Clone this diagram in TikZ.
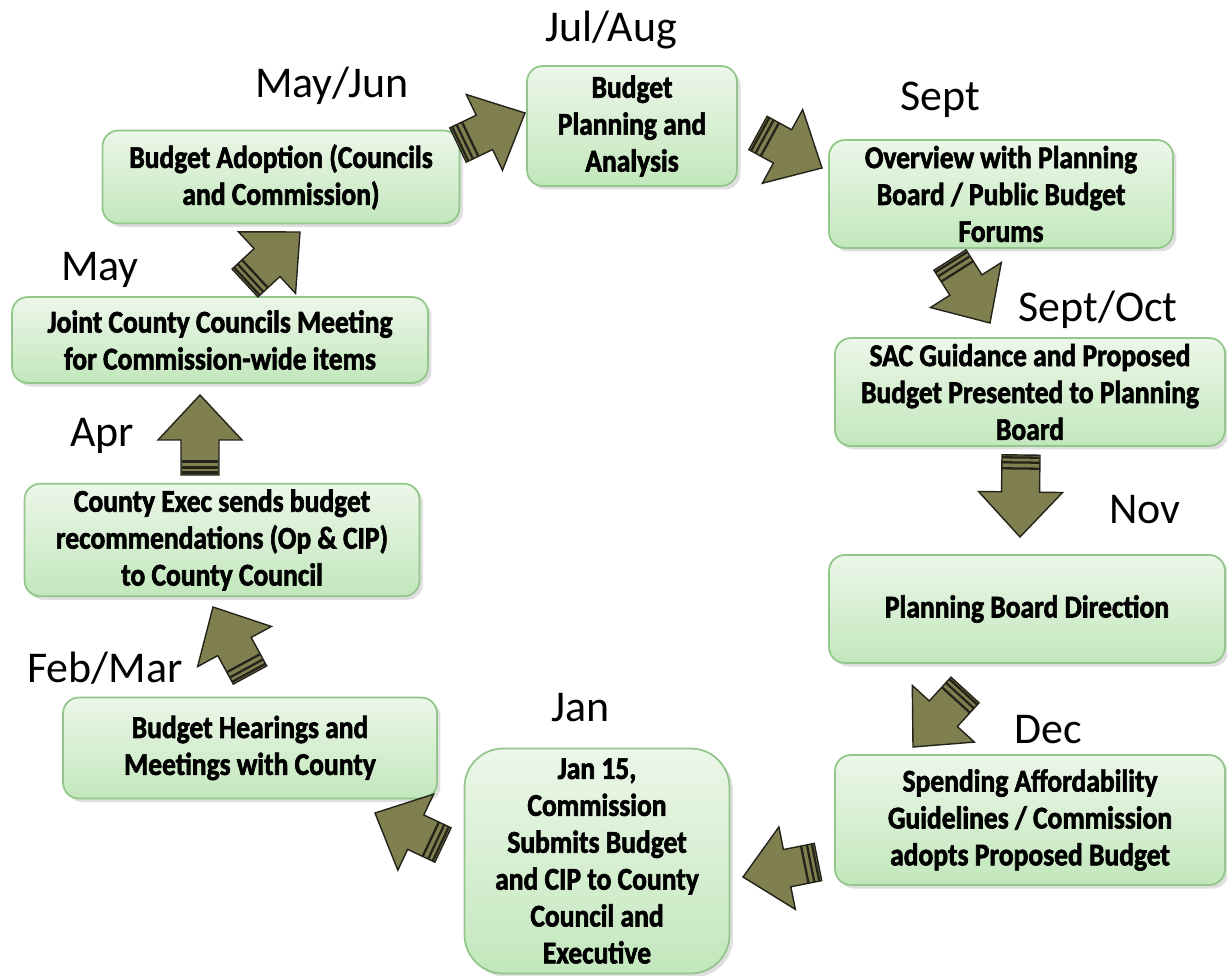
\documentclass[tikz,border=0pt]{standalone}
\usepackage{fontspec}
\setmainfont{Carlito}
\newfontfamily\boxfont{Carlito}[FakeStretch=0.87,BoldFeatures={FakeBold=2}]
\usetikzlibrary{calc,shadows}

\definecolor{boxtop}{RGB}{236,247,233}
\definecolor{boxbot}{RGB}{194,231,188}
\definecolor{boxline}{RGB}{146,198,138}
\definecolor{arrowfill}{RGB}{127,127,80}
\definecolor{arrowline}{RGB}{35,35,25}

% fat block arrow from #1 (tail) to #2 (tip)
\newcommand{\fatarrow}[2]{%
  \filldraw[fill=arrowfill,draw=arrowline,line width=0.8pt,line join=miter]
    ($(#1)!0.38cm!90:(#2)$) -- ($(#2)!0.9cm!(#1)!0.38cm!90:(#2)$)
    -- ($(#2)!0.9cm!(#1)!0.84cm!90:(#2)$) -- (#2)
    -- ($(#2)!0.9cm!(#1)!0.84cm!-90:(#2)$) -- ($(#2)!0.9cm!(#1)!0.38cm!-90:(#2)$)
    -- ($(#1)!0.38cm!-90:(#2)$) -- cycle;
  \foreach \d in {0.05cm,0.15cm,0.27cm}
    \draw[arrowline,line width=1.3pt]
      ($(#1)!\d!(#2)!0.37cm!90:(#2)$) -- ($(#1)!\d!(#2)!0.37cm!-90:(#2)$);
}

\begin{document}
\begin{tikzpicture}[x=0.02cm,y=-0.02cm,
    stage/.style={draw=boxline,line width=1pt,rounded corners=9pt,
      top color=boxtop,bottom color=boxbot,align=center,
      drop shadow={opacity=0.25,shadow xshift=2pt,shadow yshift=-2pt},
      font=\boxfont\bfseries\fontsize{18}{21}\selectfont},
    month/.style={font=\fontsize{25}{28}\selectfont}]

    \useasboundingbox (0,0) rectangle (1227,976);

    \node[stage,minimum width=4.2cm,minimum height=2.4cm] (budgetplan) at (632,126)
      {Budget\\Planning and\\Analysis};
    \node[stage,minimum width=6.88cm,minimum height=2.12cm] (overview) at (1001,194)
      {Overview with Planning\\Board / Public Budget\\Forums};
    \node[stage,minimum width=7.8cm,minimum height=2.1cm] (sacguide) at (1030,392)
      {SAC Guidance and Proposed\\Budget Presented to Planning\\Board};
    \node[stage,minimum width=7.92cm,minimum height=2.16cm] (pbdirection) at (1027,609)
      {Planning Board Direction};
    \node[stage,minimum width=7.8cm,minimum height=2.6cm] (spending) at (1030,820)
      {Spending Affordability\\Guidelines / Commission\\adopts Proposed Budget};
    \node[stage,rounded corners=22pt,minimum width=5.3cm,minimum height=4.5cm] (submit) at (597,861)
      {Jan 15,\\Commission\\Submits Budget\\and CIP to County\\Council and\\Executive};
    \node[stage,minimum width=7.48cm,minimum height=2.02cm] (hearings) at (250,748)
      {Budget Hearings and\\Meetings with County};
    \node[stage,minimum width=7.9cm,minimum height=2.2cm] (execrec) at (222,540)
      {County Exec sends budget\\recommendations (Op \& CIP)\\to County Council};
    \node[stage,minimum width=8.32cm,minimum height=1.72cm] (jointmeet) at (220,340)
      {Joint County Councils Meeting\\for Commission-wide items};
    \node[stage,minimum width=7.14cm,minimum height=1.86cm] (adoption) at (281,177)
      {Budget Adoption (Councils\\and Commission)};

    \node[month] (julaug) at (611,30) {Jul/Aug};
    \node[month] (mayjun) at (332,86) {May/Jun};
    \node[month] (sept) at (940,100) {Sept};
    \node[month] (septoct) at (1098,310) {Sept/Oct};
    \node[month] (nov) at (1145,510) {Nov};
    \node[month] (dec) at (1048,730) {Dec};
    \node[month] (jan) at (581,708) {Jan};
    \node[month] (febmar) at (105,668) {Feb/Mar};
    \node[month] (apr) at (102,436) {Apr};
    \node[month] (may) at (100,270) {May};

    % tails and tips of the block arrows
    \coordinate (t1) at (458,145);  \coordinate (h1) at (525,113);
    \coordinate (t2) at (758,133);  \coordinate (h2) at (822,168);
    \coordinate (t3) at (950,260);  \coordinate (h3) at (990,323);
    \coordinate (t4) at (1021,455); \coordinate (h4) at (1020,537);
    \coordinate (t5) at (965,690);  \coordinate (h5) at (913,747);
    \coordinate (t6) at (818,862);  \coordinate (h6) at (743,877);
    \coordinate (t7) at (443,845);  \coordinate (h7) at (375,813);
    \coordinate (t8) at (250,675);  \coordinate (h8) at (213,607);
    \coordinate (t9) at (200,475);  \coordinate (h9) at (200,395);
    \coordinate (t10) at (245,283); \coordinate (h10) at (300,232);

    \foreach \i in {1,...,10}
      \fatarrow{t\i}{h\i};

\end{tikzpicture}
\end{document}
